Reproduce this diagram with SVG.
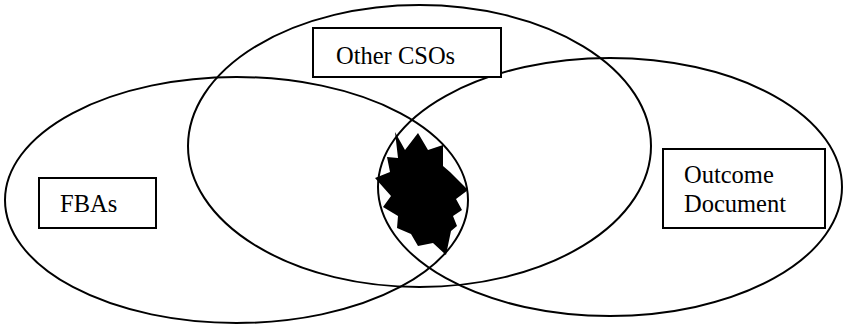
<svg xmlns="http://www.w3.org/2000/svg" width="843" height="324" viewBox="0 0 843 324">
<style>
.ell{fill:none;stroke:#000;stroke-width:2}
.box{fill:#fff;stroke:#000;stroke-width:2}
.lbl{font-family:"Liberation Serif","Times New Roman",serif;font-size:24.5px;fill:#000}
</style>
<rect width="843" height="324" fill="#fff"/>
<g id="connectors"></g>
<g id="fbas-set"><ellipse class="ell" cx="236.5" cy="200" rx="231.5" ry="123"/></g>
<g id="cso-set"><ellipse class="ell" cx="419.5" cy="146" rx="231.5" ry="141"/></g>
<g id="outcome-set"><ellipse class="ell" cx="610" cy="187" rx="232" ry="129"/></g>
<g id="star"><polygon fill="#000" points="395,132 405,150 418,133 428,150 443,145 443,166 450,172 468,190 456,199 462,210 453,216 457,226 451,231 446,255 433,243 418,246 411,234 397,228 398,216 383,207 391,196 375,178 390,172 387,157 398,158"/></g>
<g id="other-csos"><rect class="box" x="313" y="28" width="188" height="49"/><text class="lbl" x="336" y="64">Other CSOs</text></g>
<g id="fbas"><rect class="box" x="39" y="178" width="117" height="50"/><text class="lbl" x="60" y="212">FBAs</text></g>
<g id="outcome"><rect class="box" x="663" y="149" width="162" height="79"/><text class="lbl" x="684" y="183">Outcome</text><text class="lbl" x="684" y="212">Document</text></g>
</svg>
